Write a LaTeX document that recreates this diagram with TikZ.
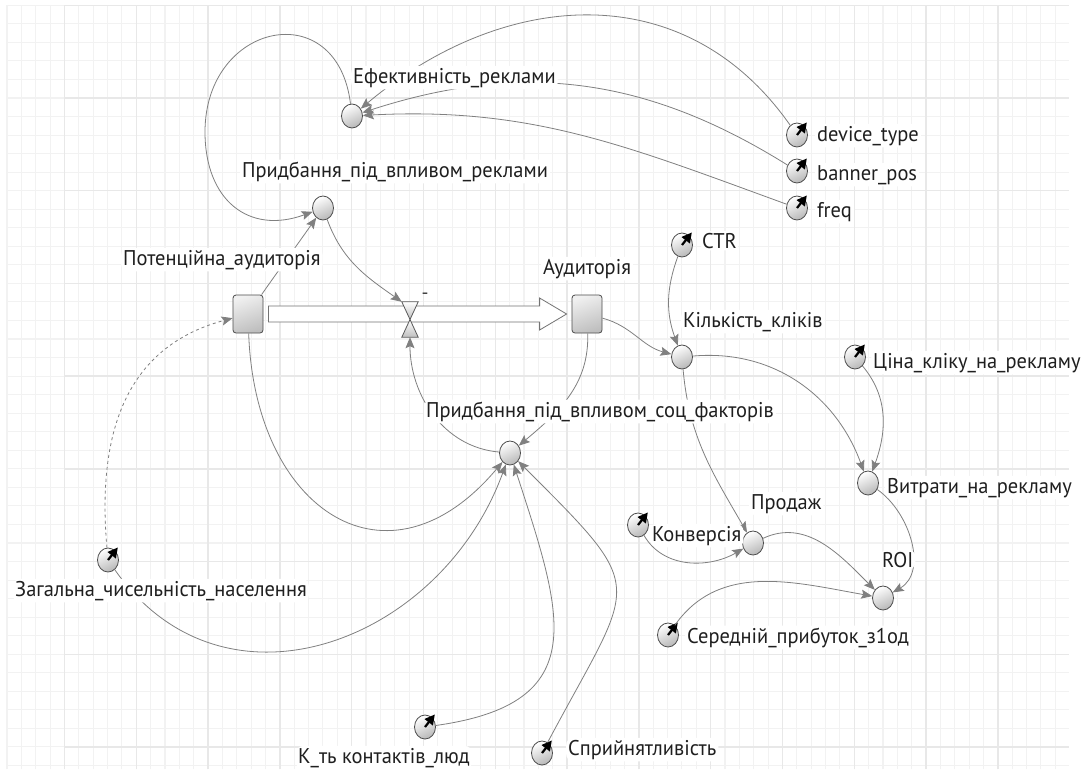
\documentclass[tikz,border=0pt]{standalone}
\usepackage{fontspec}
\setmainfont[FakeStretch=0.96]{PT Sans}
\usetikzlibrary{arrows.meta,shapes.geometric}

\begin{document}
\begin{tikzpicture}[x=1pt, y=1pt,
  aux/.style={ellipse, draw=black!70, line width=0.8pt,
    top color=white, bottom color=black!28, shading angle=25,
    minimum width=21pt, minimum height=24pt, inner sep=0pt},
  param/.style={aux},
  stock/.style={rectangle, rounded corners=3pt, draw=black!70, line width=0.8pt,
    top color=black!6, bottom color=black!25, shading angle=20,
    minimum width=30pt, minimum height=38pt, inner sep=0pt},
  lbl/.style={anchor=base west, fill=white, rounded corners=7pt,
    inner xsep=2pt, inner ysep=2pt, text=black!88,
    font=\fontsize{21.3}{23}\selectfont},
  link/.style={draw=black!50, line width=0.8pt,
    -{Stealth[length=11pt,width=9pt,inset=2pt]}},
  pointer/.style={line width=2.2pt, -{Triangle[length=10pt,width=10pt]}, black},
  pipe/.style={draw=black!55, fill=white, line width=0.8pt},
  valveshape/.style={draw=black!65, line width=0.8pt, top color=white,
    bottom color=black!25}
]
% background and grid
\fill[white] (0,0) rectangle (1086,-769);
\useasboundingbox (0,0) rectangle (1086,-769);
\begin{scope}[shift={(7,-5.3)}]
  \draw[black!5, line width=1.1pt] (0,0) grid[xstep=14.36, ystep=18.54] (1062,-764);
\end{scope}
\begin{scope}[shift={(64.4,-5.3)}]
  \draw[black!9, line width=1.4pt] (0,0) grid[xstep=71.8, ystep=92.7] (1005,-764);
\end{scope}

% stocks and flow
\node[stock] (pot) at (248,-314) {};
\node[stock] (aud) at (587,-314) {};
\draw[pipe] ([shift={(5,8)}]pot.east) -- ([shift={(-32,8)}]aud.west)
  -- ([shift={(-32,16)}]aud.west) -- ([xshift=-5]aud.west)
  -- ([shift={(-32,-16)}]aud.west) -- ([shift={(-32,-8)}]aud.west)
  -- ([shift={(5,-8)}]pot.east) -- cycle;
\node[minimum width=16pt, minimum height=35pt, inner sep=0pt] (valve) at (410,-319.5) {};
\draw[valveshape] (valve.north west) -- (valve.north east) -- (valve.center) -- cycle;
\draw[valveshape] (valve.south west) -- (valve.south east) -- (valve.center) -- cycle;
\node[font=\fontsize{20}{20}\selectfont, inner sep=0pt, text=black!75] (valve-sign) at (425,-296) {-};

% auxiliaries
\node[aux] (eff) at (352,-116) {};
\node[aux] (adbuy) at (323,-208) {};
\node[aux] (socbuy) at (510,-453) {};
\node[aux] (clicks) at (682,-357) {};
\node[aux] (cost) at (868,-483) {};
\node[aux] (sales) at (753,-543) {};
\node[aux] (roi) at (883,-598) {};

% parameters
\node[param] (devtype) at (797,-135) {};
\node[param] (bannerpos) at (797,-171) {};
\node[param] (freq) at (797,-208) {};
\node[param] (ctr) at (682,-245) {};
\node[param] (price) at (855,-357) {};
\node[param] (conv) at (638,-525) {};
\node[param] (profit) at (668,-635) {};
\node[param] (popul) at (108,-560) {};
\node[param] (contacts) at (425,-727) {};
\node[param] (suscept) at (542,-753) {};
\foreach \p in {devtype,bannerpos,freq,ctr,price,conv,profit,popul,contacts,suscept}
  \draw[pointer] (\p.center) -- ++(52:16);

% links
\coordinate (loopW) at (205,-132);
\draw[link] (pot) to[out=55,in=235] (adbuy);
\draw[link] (eff) to[out=97,in=90,looseness=1.9] (loopW)
  to[out=270,in=200,looseness=1.3] (adbuy);
\draw[link] (adbuy) to[out=-70,in=145] (valve.north west);
\draw[link] (devtype) to[out=125,in=40,looseness=1.1] (eff);
\draw[link] (bannerpos) to[out=148,in=18] (eff);
\draw[link] (freq) to[out=160,in=3] (eff);
\draw[link, dashed] (popul) to[out=95,in=195,looseness=1.1] (pot);
\draw[link] (pot) to[out=-88,in=230,looseness=1.6] (socbuy);
\draw[link] (popul) to[out=-55,in=250,looseness=1.2] (socbuy);
\draw[link] (contacts) to[out=8,in=-72,looseness=1.5] (socbuy);
\draw[link] (suscept) to[out=62,in=-45,looseness=1.7] (socbuy);
\draw[link] (aud) to[out=-88,in=40] (socbuy);
\draw[link] (socbuy) to[out=175,in=-90] (valve.south);
\draw[link] (aud) to[out=-15,in=165] (clicks);
\draw[link] (ctr) to[out=-110,in=110] (clicks);
\draw[link] (clicks) to[out=5,in=110] (cost);
\draw[link] (price) to[out=-50,in=70] (cost);
\draw[link] (clicks) to[out=-85,in=120] (sales);
\draw[link] (conv) to[out=-60,in=210] (sales);
\draw[link] (sales) to[out=25,in=135] (roi);
\draw[link] (cost) to[out=-35,in=30] (roi);
\draw[link] (profit) to[out=55,in=170] (roi);

% labels
\node[lbl] (eff-lbl) at (351,-83) {Ефективність\_реклами};
\node[lbl] (adbuy-lbl) at (240,-177) {Придбання\_під\_впливом\_реклами};
\node[lbl] (pot-lbl) at (121,-265) {Потенційна\_аудиторія};
\node[lbl] (aud-lbl) at (541,-274) {Аудиторія};
\node[lbl] (socbuy-lbl) at (424,-417) {Придбання\_під\_впливом\_соц\_факторів};
\node[lbl] (clicks-lbl) at (681,-327) {Кількість\_кліків};
\node[lbl] (ctr-lbl) at (700,-248) {CTR};
\node[lbl] (devtype-lbl) at (815,-141) {device\_type};
\node[lbl] (bannerpos-lbl) at (815,-180) {banner\_pos};
\node[lbl] (freq-lbl) at (815,-217) {freq};
\node[lbl] (price-lbl) at (871,-368) {Ціна\_кліку\_на\_рекламу};
\node[lbl] (cost-lbl) at (885,-493) {Витрати\_на\_рекламу};
\node[lbl] (sales-lbl) at (749,-509) {Продаж};
\node[lbl] (conv-lbl) at (650,-541) {Конверсія};
\node[lbl] (roi-lbl) at (880,-567) {ROI};
\node[lbl] (profit-lbl) at (685,-643) {Середній\_прибуток\_з1од};
\node[lbl] (popul-lbl) at (13,-596) {Загальна\_чисельність\_населення};
\node[lbl] (contacts-lbl) at (296,-763) {К\_ть контактів\_люд};
\node[lbl] (suscept-lbl) at (566,-755) {Сприйнятливість};
\end{tikzpicture}
\end{document}
